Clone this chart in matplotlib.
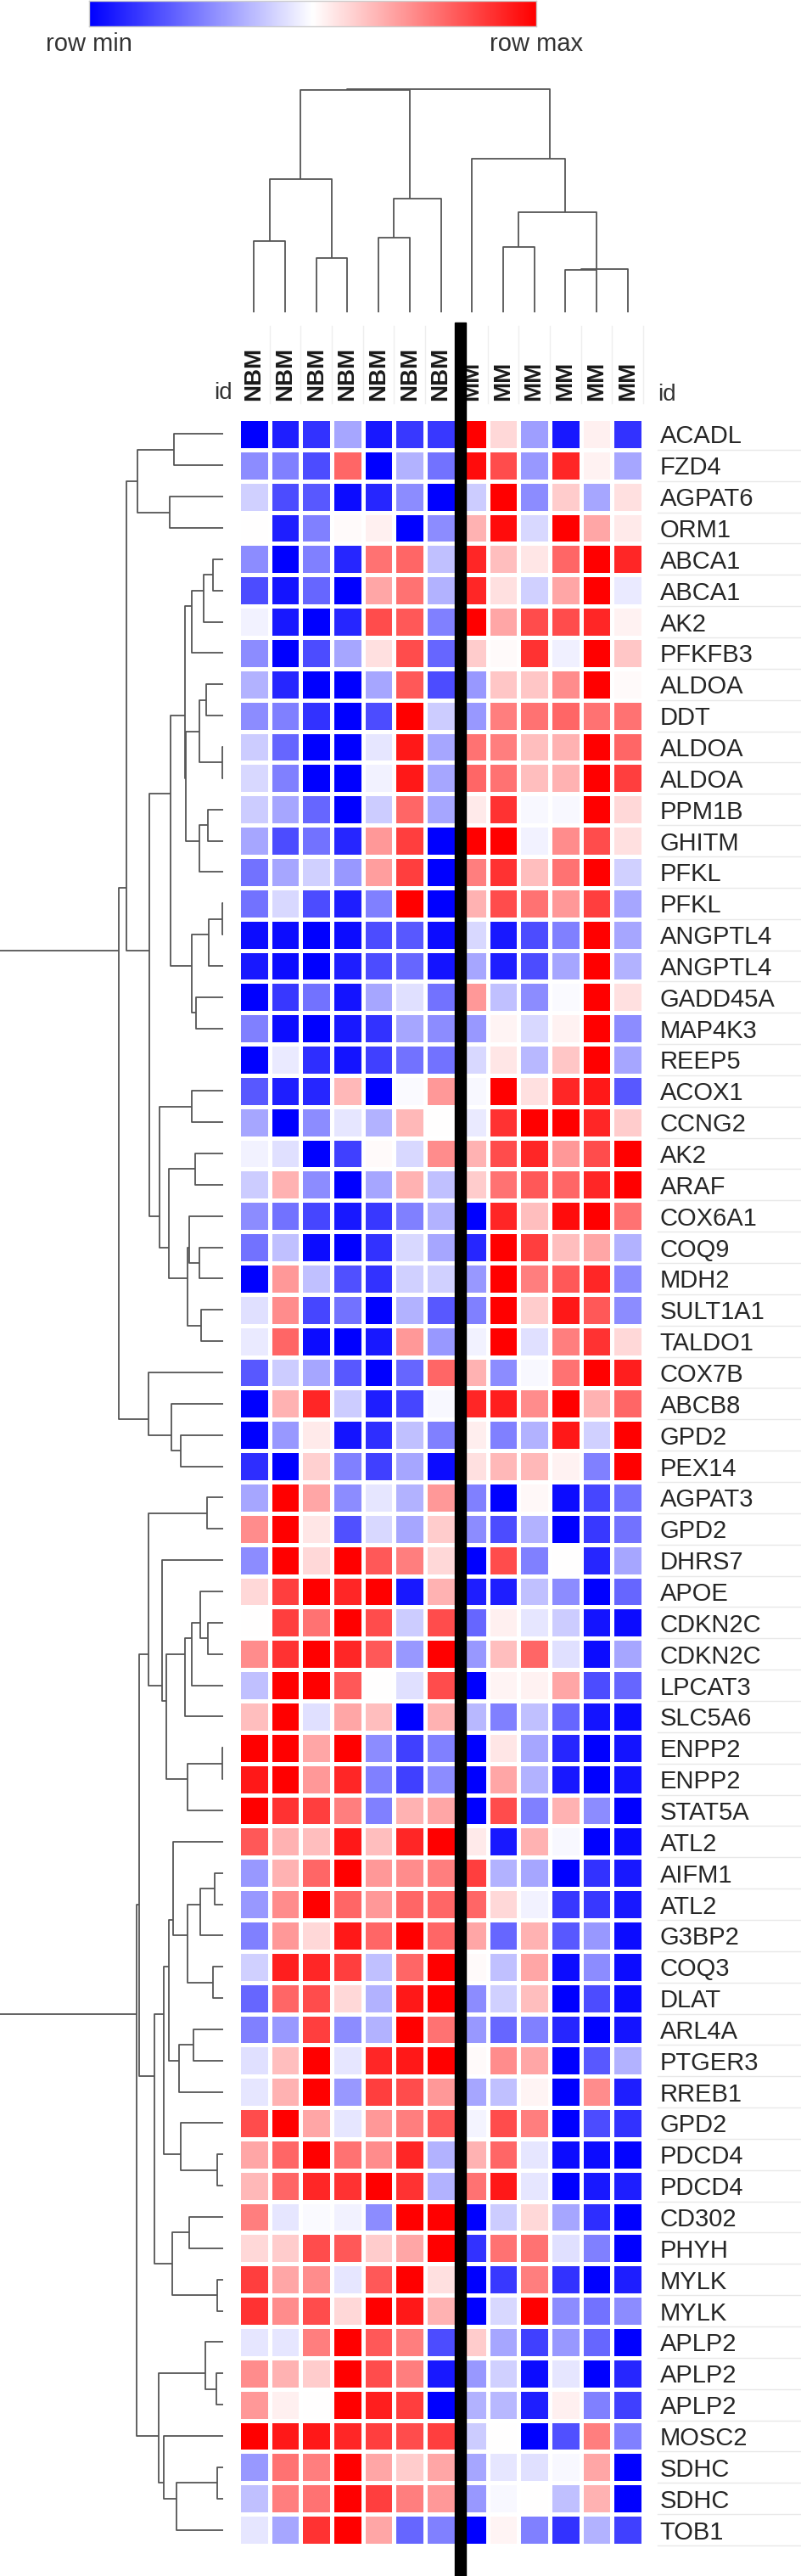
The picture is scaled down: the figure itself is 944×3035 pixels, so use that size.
import numpy as np
import matplotlib
matplotlib.use("Agg")
import matplotlib.pyplot as plt
from matplotlib.colors import LinearSegmentedColormap
from matplotlib.collections import LineCollection
from matplotlib.patches import Rectangle

plt.rcParams['font.family'] = ['Liberation Sans', 'DejaVu Sans']

# ---- data -------------------------------------------------------------
genes = ["ACADL", "FZD4", "AGPAT6", "ORM1", "ABCA1", "ABCA1", "AK2", "PFKFB3",
         "ALDOA", "DDT", "ALDOA", "ALDOA", "PPM1B", "GHITM", "PFKL", "PFKL",
         "ANGPTL4", "ANGPTL4", "GADD45A", "MAP4K3", "REEP5", "ACOX1", "CCNG2", "AK2",
         "ARAF", "COX6A1", "COQ9", "MDH2", "SULT1A1", "TALDO1", "COX7B", "ABCB8",
         "GPD2", "PEX14", "AGPAT3", "GPD2", "DHRS7", "APOE", "CDKN2C", "CDKN2C",
         "LPCAT3", "SLC5A6", "ENPP2", "ENPP2", "STAT5A", "ATL2", "AIFM1", "ATL2",
         "G3BP2", "COQ3", "DLAT", "ARL4A", "PTGER3", "RREB1", "GPD2", "PDCD4",
         "PDCD4", "CD302", "PHYH", "MYLK", "MYLK", "APLP2", "APLP2", "APLP2",
         "MOSC2", "SDHC", "SDHC", "TOB1"]

samples = ["NBM"] * 7 + ["MM"] * 6

# row-scaled values, -1 = row min (blue), 1 = row max (red)
nbm_values = [
    [-1.0, -0.88, -0.8, -0.35, -0.9, -0.78, -0.78],
    [-0.45, -0.5, -0.7, 0.6, -1.0, -0.3, -0.55],
    [-0.18, -0.7, -0.65, -0.95, -0.85, -0.45, -1.0],
    [0.0, -0.88, -0.5, 0.02, 0.06, -1.0, -0.45],
    [-0.45, -1.0, -0.5, -0.85, 0.55, 0.6, -0.25],
    [-0.7, -0.92, -0.6, -1.0, 0.35, 0.55, -0.3],
    [-0.05, -0.9, -1.0, -0.85, 0.7, 0.65, -0.5],
    [-0.45, -1.0, -0.7, -0.35, 0.12, 0.7, -0.6],
    [-0.3, -0.85, -1.0, -1.0, -0.35, 0.65, -0.7],
    [-0.45, -0.5, -0.8, -1.0, -0.7, 1.0, -0.2],
    [-0.2, -0.6, -1.0, -1.0, -0.1, 0.9, -0.35],
    [-0.15, -0.5, -1.0, -1.0, -0.05, 0.9, -0.35],
    [-0.2, -0.35, -0.6, -1.0, -0.2, 0.6, -0.35],
    [-0.35, -0.7, -0.55, -0.85, 0.4, 0.75, -1.0],
    [-0.55, -0.35, -0.18, -0.4, 0.38, 0.75, -1.0],
    [-0.55, -0.15, -0.7, -0.88, -0.5, 1.0, -1.0],
    [-0.95, -0.95, -1.0, -0.95, -0.7, -0.65, -0.95],
    [-0.9, -0.95, -1.0, -0.88, -0.7, -0.6, -0.92],
    [-1.0, -0.78, -0.55, -0.92, -0.35, -0.12, -0.55],
    [-0.5, -0.95, -1.0, -0.9, -0.8, -0.35, -0.45],
    [-1.0, -0.08, -0.82, -0.92, -0.75, -0.55, -0.55],
    [-0.65, -0.88, -0.85, 0.28, -1.0, -0.02, 0.4],
    [-0.35, -1.0, -0.45, -0.1, -0.3, 0.28, 0.0],
    [-0.05, -0.12, -1.0, -0.75, 0.02, -0.15, 0.45],
    [-0.2, 0.3, -0.45, -1.0, -0.35, 0.3, -0.25],
    [-0.45, -0.55, -0.72, -0.9, -0.78, -0.5, -0.3],
    [-0.55, -0.25, -0.95, -1.0, -0.8, -0.15, -0.35],
    [-1.0, 0.4, -0.25, -0.68, -0.8, -0.18, -0.18],
    [-0.12, 0.45, -0.72, -0.55, -1.0, -0.3, -0.65],
    [-0.08, 0.6, -0.95, -1.0, -0.9, 0.4, -0.4],
    [-0.65, -0.2, -0.35, -0.65, -1.0, -0.6, 0.6],
    [-1.0, 0.3, 0.85, -0.2, -0.88, -0.72, -0.03],
    [-1.0, -0.4, 0.08, -0.92, -0.82, -0.25, -0.5],
    [-0.82, -1.0, 0.18, -0.5, -0.75, -0.35, -0.95],
    [-0.35, 1.0, 0.35, -0.45, -0.1, -0.3, 0.4],
    [0.45, 1.0, 0.1, -0.68, -0.15, -0.35, 0.2],
    [-0.45, 1.0, 0.15, 1.0, 0.65, 0.5, 0.15],
    [0.15, 0.75, 1.0, 0.85, 1.0, -0.9, 0.3],
    [0.0, 0.75, 0.55, 1.0, 0.7, -0.2, 0.7],
    [0.45, 0.8, 1.0, 0.85, 0.65, -0.4, 1.0],
    [-0.25, 1.0, 1.0, 0.65, 0.0, -0.12, 0.7],
    [0.25, 1.0, -0.12, 0.35, 0.25, -1.0, 0.3],
    [1.0, 1.0, 0.35, 1.0, -0.45, -0.75, -0.5],
    [0.9, 1.0, 0.4, 0.85, -0.5, -0.75, -0.45],
    [1.0, 0.8, 0.75, 0.5, -0.5, 0.3, 0.35],
    [0.65, 0.3, 0.25, 0.9, 0.25, 0.85, 1.0],
    [-0.4, 0.3, 0.6, 1.0, 0.4, 0.45, 0.5],
    [-0.4, 0.45, 1.0, 0.6, 0.4, 0.6, 0.6],
    [-0.5, 0.4, 0.15, 0.9, 0.6, 1.0, 0.6],
    [-0.18, 0.88, 0.85, 0.75, -0.25, 0.6, 1.0],
    [-0.6, 0.6, 0.7, 0.15, -0.3, 0.9, 1.0],
    [-0.5, -0.4, 0.75, -0.45, -0.3, 1.0, 0.55],
    [-0.12, 0.25, 1.0, -0.1, 0.85, 0.9, 1.0],
    [-0.1, 0.3, 1.0, -0.4, 0.75, 0.7, 0.4],
    [0.7, 1.0, 0.35, -0.1, 0.4, 0.5, 0.65],
    [0.35, 0.6, 1.0, 0.55, 0.45, 0.85, -0.3],
    [0.28, 0.6, 0.85, 0.8, 1.0, 0.8, -0.3],
    [0.5, -0.1, -0.02, -0.05, -0.45, 1.0, 1.0],
    [0.15, 0.2, 0.7, 0.65, 0.2, 0.35, 1.0],
    [0.75, 0.35, 0.45, -0.1, 0.65, 1.0, 0.12],
    [0.8, 0.45, 0.7, 0.15, 1.0, 0.9, 0.3],
    [-0.1, -0.1, 0.5, 1.0, 0.65, 0.5, -0.7],
    [0.45, 0.3, 0.2, 1.0, 0.7, 0.5, -0.9],
    [0.4, 0.06, 0.0, 1.0, 0.88, 0.75, -1.0],
    [1.0, 0.9, 0.9, 0.85, 0.75, 0.7, 0.75],
    [-0.4, 0.55, 0.5, 1.0, 0.35, 0.2, 0.35],
    [-0.25, 0.5, 0.55, 1.0, 0.75, 0.5, 0.4],
    [-0.1, -0.35, 0.8, 1.0, 0.35, -0.6, -0.5],
]

mm_values = [
    [1.0, 0.15, -0.38, -0.9, 0.06, -0.8],
    [0.95, 0.7, -0.4, 0.85, 0.05, -0.35],
    [-0.2, 1.0, -0.45, 0.2, -0.35, 0.12],
    [0.3, 0.95, -0.15, 1.0, 0.35, 0.08],
    [0.85, 0.25, 0.1, 0.6, 1.0, 0.85],
    [0.85, 0.12, -0.18, 0.35, 1.0, -0.08],
    [1.0, 0.35, 0.7, 0.7, 0.85, 0.05],
    [0.2, 0.02, 0.8, -0.06, 1.0, 0.22],
    [-0.4, 0.22, 0.22, 0.45, 1.0, 0.02],
    [-0.4, 0.5, 0.55, 0.6, 0.55, 0.55],
    [0.55, 0.5, 0.25, 0.3, 1.0, 0.6],
    [0.6, 0.55, 0.25, 0.3, 1.0, 0.75],
    [0.08, 0.8, -0.03, -0.03, 1.0, 0.15],
    [1.0, 1.0, -0.05, 0.45, 0.7, 0.12],
    [0.5, 0.8, 0.25, 0.55, 1.0, -0.18],
    [0.3, 0.7, 0.55, 0.4, 0.75, -0.35],
    [-0.15, -0.9, -0.7, -0.5, 1.0, -0.35],
    [-0.35, -0.88, -0.7, -0.35, 1.0, -0.3],
    [0.4, -0.25, -0.45, -0.02, 1.0, 0.12],
    [-0.4, 0.04, -0.15, 0.05, 1.0, -0.45],
    [-0.15, 0.1, -0.28, 0.22, 1.0, -0.35],
    [-0.03, 1.0, 0.12, 0.85, 0.9, -0.65],
    [-0.08, 0.8, 1.0, 1.0, 0.85, 0.2],
    [0.3, 0.7, 0.85, 0.4, 0.7, 1.0],
    [0.2, 0.55, 0.65, 0.6, 0.85, 1.0],
    [-1.0, 0.85, 0.25, 0.95, 1.0, 0.55],
    [-0.85, 1.0, 0.75, 0.25, 0.35, -0.3],
    [-0.4, 1.0, 0.5, 0.65, 0.85, -0.45],
    [-0.5, 1.0, 0.2, 0.9, 0.65, -0.45],
    [-0.05, 1.0, -0.12, 0.5, 0.8, 0.15],
    [0.3, -0.45, -0.03, 0.55, 1.0, 0.88],
    [0.85, 0.88, 0.45, 1.0, 0.3, 0.6],
    [0.07, -0.5, -0.3, 0.9, -0.18, 1.0],
    [0.12, 0.28, 0.28, 0.05, -0.5, 1.0],
    [-0.5, -1.0, 0.03, -0.95, -0.72, -0.55],
    [-0.45, -0.7, -0.3, -1.0, -0.78, -0.55],
    [-1.0, 0.7, -0.5, 0.0, -0.85, -0.35],
    [-0.88, -0.88, -0.25, -0.45, -1.0, -0.6],
    [-0.6, 0.06, -0.1, -0.2, -0.92, -0.95],
    [-0.4, 0.25, 0.6, -0.12, -0.95, -0.35],
    [-1.0, 0.04, 0.05, 0.35, -0.7, -0.6],
    [-0.28, -0.5, -0.25, -0.6, -0.92, -0.95],
    [-1.0, 0.1, -0.35, -0.85, -1.0, -0.92],
    [-1.0, 0.35, -0.3, -0.9, -1.0, -0.92],
    [-1.0, 0.7, -0.5, 0.3, -0.45, -1.0],
    [0.08, -0.9, 0.3, -0.03, -1.0, -0.95],
    [0.75, -0.3, -0.35, -1.0, -0.8, -0.9],
    [0.6, 0.15, -0.05, -0.78, -0.78, -0.9],
    [0.35, -0.6, 0.3, -0.65, -0.4, -0.95],
    [0.02, -0.25, 0.35, -0.95, -0.45, -0.95],
    [-0.45, -0.18, 0.25, -1.0, -0.7, -0.95],
    [-0.4, -0.6, -0.5, -0.85, -1.0, -0.92],
    [0.02, 0.45, 0.35, -1.0, -0.65, -0.3],
    [-0.35, -0.25, 0.04, -1.0, 0.45, -0.88],
    [-0.04, 0.7, 0.5, -1.0, -0.7, -0.8],
    [0.3, 0.6, -0.1, -0.95, -0.95, -0.98],
    [0.55, 0.9, -0.1, -1.0, -0.9, -0.88],
    [-1.0, -0.2, 0.15, -0.35, -0.82, -1.0],
    [-0.8, 0.55, 0.55, -0.12, -0.5, -1.0],
    [-1.0, -0.78, 0.5, -0.8, -1.0, -0.88],
    [-1.0, -0.15, 1.0, -0.45, -0.55, -0.45],
    [0.2, -0.35, -0.75, -0.4, -0.6, -1.0],
    [-0.4, -0.18, -0.95, -0.1, -1.0, -0.85],
    [-0.3, -0.28, -0.88, 0.06, -0.5, -0.75],
    [-0.2, 0.0, -1.0, -0.68, 0.5, -0.5],
    [-0.35, -0.1, -0.12, -0.03, 0.35, -1.0],
    [-0.4, -0.03, 0.0, -0.25, 0.3, -1.0],
    [-1.0, 0.04, -0.5, -0.8, -0.3, -0.75],
]

# dendrogram merges: (name, left, right, height); ints are leaf indices
row_merges = [
    ("a", 0, 1, 175), ("b", 2, 3, 190), ("c", "a", "b", 303),
    ("d", 4, 5, 35), ("e", "d", 6, 70), ("f", "e", 7, 112),
    ("g", 8, 9, 60), ("h", 10, 11, 3), ("i", "g", "h", 84),
    ("j", 12, 13, 55), ("k", "j", 14, 85), ("l", "i", "k", 133),
    ("m", "f", "l", 136),
    ("n", 15, 16, 3), ("o", "n", 17, 50), ("p", 18, 19, 95), ("q", "o", "p", 110),
    ("r", "m", "q", 187),
    ("s", 21, 22, 110), ("t", 23, 24, 100),
    ("u", 26, 27, 84), ("v", 25, "u", 120), ("w", 28, 29, 78), ("x", "v", "w", 125),
    ("y", "t", "x", 193), ("z", "s", "y", 225), ("aa", "r", "z", 260),
    ("ab", "c", "aa", 343),
    ("ac", 32, 33, 150), ("ad", 31, "ac", 183), ("ae", 30, "ad", 265),
    ("af", "ab", "ae", 370),
    ("b1", 34, 35, 57), ("b2", 38, 39, 55), ("b3", 37, "b2", 82),
    ("b4", "b3", 40, 112), ("b5", "b4", 41, 135),
    ("b6", 42, 43, 3), ("b7", "b6", 44, 125), ("b8", "b5", "b7", 200),
    ("b9", 36, "b8", 217), ("b10", "b1", "b9", 265),
    ("c1", 46, 47, 30), ("c2", "c1", 48, 82), ("c3", 49, 50, 35),
    ("c4", "c2", "c3", 125), ("c5", 45, "c4", 178),
    ("c6", 51, 52, 105), ("c7", "c6", 53, 155), ("c8", "c5", "c7", 193),
    ("c9", 55, 56, 20), ("c10", 54, "c9", 150), ("c11", "c8", "c10", 210),
    ("c12", 57, 58, 120), ("c13", 59, 60, 20), ("c14", "c12", "c13", 180),
    ("c15", "c11", "c14", 242),
    ("d1", 62, 63, 25), ("d2", 61, "d1", 62),
    ("d3", 65, 66, 20), ("d4", "d3", 67, 165), ("d5", 64, "d4", 210),
    ("d6", "d2", "d5", 228),
    ("e1", "b10", "c15", 298), ("e2", "e1", "d6", 305),
    ("root", "af", "e2", 790),
]

col_merges = [
    ("k1", 0, 1, 235), ("k2", 2, 3, 180), ("k3", "k1", "k2", 440),
    ("k4", 4, 5, 245), ("k5", "k4", 6, 375), ("k6", "k3", "k5", 733),
    ("k7", 8, 9, 215), ("k8", 10, 11, 140), ("k9", "k8", 12, 143),
    ("k10", "k7", "k9", 330), ("k11", 7, "k10", 505),
    ("root", "k6", "k11", 735),
]

# ---- layout helpers (pixel boxes) ------------------------------------------
W, H = 945, 3035
fig = plt.figure(figsize=(W / 100, H / 100), dpi=100)


def px_axes(x0, y0, x1, y1):
    return fig.add_axes([x0 / W, 1 - y1 / H, (x1 - x0) / W, (y1 - y0) / H])


def tree_segments(merges, vertical):
    # a node sits halfway between the first and last leaf it covers
    span, hgt, segs = {}, {}, []

    def get(node):
        if isinstance(node, int):
            return (node, node), 0.0
        return span[node], hgt[node]

    for name, a, b, h in merges:
        sa, ha = get(a)
        sb, hb = get(b)
        pa = (sa[0] + sa[1]) / 2 + 0.5
        pb = (sb[0] + sb[1]) / 2 + 0.5
        pts = [(pa, ha), (pa, h), (pb, h), (pb, hb)]
        if vertical:
            segs.append(pts)
        else:
            segs.append([(y, x) for x, y in pts])
        span[name] = (min(sa[0], sb[0]), max(sa[1], sb[1]))
        hgt[name] = h
    return segs


cmap = LinearSegmentedColormap.from_list("rowscale", ["#0000ff", "#ffffff", "#ff0000"])
values = np.hstack([np.array(nbm_values), np.array(mm_values)])
n_rows, n_cols = values.shape

hx0, hx1, hy0, hy1 = 281, 758, 493, 2999

# heatmap
ax = px_axes(hx0, hy0, hx1, hy1)
ax.pcolormesh(values, cmap=cmap, vmin=-1, vmax=1, edgecolors="white", linewidth=2.2)
ax.set_xlim(0, n_cols)
ax.set_ylim(n_rows, 0)
for s in ax.spines.values():
    s.set_visible(False)
ax.yaxis.tick_right()
ax.set_yticks(np.arange(n_rows) + 0.5)
ax.set_yticklabels(genes, fontsize=21, color="#262626")
ax.xaxis.tick_top()
ax.set_xticks(np.arange(n_cols) + 0.5)
ax.set_xticklabels(samples, rotation=90, fontsize=20, fontweight="bold", color="#1a1a1a")
ax.tick_params(axis="y", length=0, pad=14)
ax.tick_params(axis="x", length=0, pad=15)

# faint guide lines around the labels
for r in range(1, n_rows + 1):
    ax.plot([13.45, 18.2], [r, r], color="#e8e8e8", lw=1, clip_on=False, zorder=0)
for c in range(1, n_cols + 1):
    ax.plot([c, c], [-0.5, -2.95], color="#eeeeee", lw=1, clip_on=False, zorder=0)

# row dendrogram
ax_rd = px_axes(0, hy0, 263, hy1)
lc = LineCollection(tree_segments(row_merges, vertical=False), colors="#555555", linewidths=1.3)
lc.set_clip_on(False)
ax_rd.add_collection(lc)
ax_rd.set_xlim(788, 0)
ax_rd.set_ylim(n_rows, 0)
ax_rd.axis("off")

# column dendrogram
ax_cd = px_axes(hx0, 105, hx1, 368)
lc = LineCollection(tree_segments(col_merges, vertical=True), colors="#555555", linewidths=1.3)
lc.set_clip_on(False)
ax_cd.add_collection(lc)
ax_cd.set_xlim(0, n_cols)
ax_cd.set_ylim(0, 735)
ax_cd.axis("off")

# colour bar
ax_cb = px_axes(105, 1, 632, 31)
ax_cb.imshow(np.linspace(-1, 1, 256)[None, :], aspect="auto", cmap=cmap,
             extent=(0, 1, 0, 1))
ax_cb.set_xticks([])
ax_cb.set_yticks([])
for s in ax_cb.spines.values():
    s.set_color("#cccccc")
    s.set_linewidth(1)

# overlay in pixel coordinates: separator and loose texts
ov = fig.add_axes([0, 0, 1, 1], zorder=10)
ov.set_xlim(0, W)
ov.set_ylim(H, 0)
ov.patch.set_alpha(0)
ov.axis("off")
ov.add_patch(Rectangle((536, 380), 13, H - 380, color="black"))
ov.text(105, 52, "row min", ha="center", va="center", fontsize=21, color="#333333")
ov.text(632, 52, "row max", ha="center", va="center", fontsize=21, color="#333333")
ov.text(274, 470, "id", ha="right", va="baseline", fontsize=20, color="#333333")
ov.text(775, 472, "id", ha="left", va="baseline", fontsize=20, color="#333333")

fig.savefig("out.png", dpi=100)
